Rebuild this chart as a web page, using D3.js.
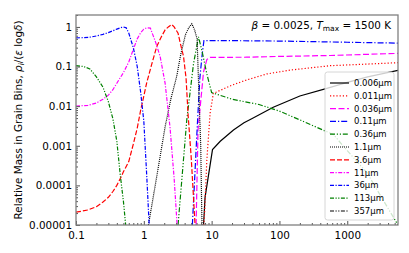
<!DOCTYPE html>
<html>
<head>
<meta charset="utf-8">
<script src="https://cdn.jsdelivr.net/npm/d3@7"></script>
<style>
  body { margin: 0; background: white; }
  text { font-family: "DejaVu Sans", sans-serif; }
</style>
</head>
<body>
<svg id="chart" width="409" height="253"></svg>
<script>

// grain sizes (legend labels)
var sizes = ["0.006μm", "0.011μm", "0.036μm", "0.11μm", "0.36μm", "1.1μm", "3.6μm", "11μm", "36μm", "113μm", "357μm"]

// series values (x = time axis, y = relative mass)
var x_0006 = [7.6, 8.0, 10.3, 13.4, 21, 30, 39, 81, 200, 500, 1000, 2000, 5600]
var y_0006 = [0.00001, 0.00005, 0.0008, 0.0013, 0.0025, 0.0038, 0.0048, 0.0094, 0.018, 0.028, 0.04, 0.055, 0.08]

var x_0011 = [7.7, 7.9, 8.5, 9.5, 10.6, 20, 33, 65, 150, 560, 1500, 5600]
var y_0011 = [0.00001, 0.000023, 0.00044, 0.0067, 0.021, 0.034, 0.046, 0.065, 0.082, 0.105, 0.113, 0.125]

var x_0036 = [5.9, 6.3, 7.0, 7.6, 8.5, 9.5, 33, 100, 560, 5600]
var y_0036 = [0.00001, 0.0025, 0.017, 0.074, 0.15, 0.17, 0.172, 0.18, 0.19, 0.215]

var x_011 = [5.2, 6.1, 6.7, 7.2, 7.7, 20, 100, 1000, 5600]
var y_011 = [0.00001, 0.0025, 0.05, 0.18, 0.45, 0.45, 0.44, 0.41, 0.39]

var x_036 = [3.2, 4.3, 5.4, 6.4, 7.2, 8.5, 10, 20, 50, 100, 200, 630, 1000, 1950, 3000, 5600]
var y_036 = [0.00001, 0.0045, 0.116, 0.56, 0.25, 0.065, 0.022, 0.015, 0.011, 0.0075, 0.0045, 0.0019, 0.00075, 0.00021, 0.00006, 0.00001]

var x_11 = [1.17, 1.5, 2.06, 2.5, 3.05, 3.5, 4.1, 4.6, 5.1, 5.6, 6.1, 6.5, 6.9, 7.2]
var y_11 = [0.00001, 0.00012, 0.003, 0.015, 0.056, 0.2, 0.63, 0.95, 1.2, 0.85, 0.5, 0.02, 0.001, 0.00001]

var x_36 = [0.1, 0.15, 0.2, 0.25, 0.3, 0.35, 0.4, 0.46, 0.5, 0.6, 0.7, 0.8, 0.9, 1.0, 1.1, 1.3, 1.55, 1.8, 2.06, 2.3, 2.58, 2.8, 3.2, 3.5, 3.85, 4.2, 4.5, 5.0, 5.7]
var y_36 = [0.000021, 0.000024, 0.000029, 0.000038, 0.00005, 0.00007, 0.0001, 0.00016, 0.00022, 0.0004, 0.0011, 0.0028, 0.008, 0.018, 0.038, 0.11, 0.32, 0.55, 0.84, 1.0, 1.15, 1.0, 0.69, 0.35, 0.18, 0.05, 0.006, 0.0005, 0.00001]

var x_110 = [0.1, 0.15, 0.2, 0.25, 0.3, 0.35, 0.4, 0.5, 0.6, 0.7, 0.8, 0.9, 1.0, 1.1, 1.25, 1.5, 1.74, 2.06, 2.44, 2.8, 3.1]
var y_110 = [0.01, 0.0105, 0.012, 0.015, 0.019, 0.026, 0.038, 0.07, 0.13, 0.27, 0.5, 0.72, 0.88, 0.95, 0.93, 0.4, 0.18, 0.038, 0.0028, 0.00015, 0.00001]

var x_360 = [0.1, 0.13, 0.16, 0.2, 0.25, 0.3, 0.35, 0.4, 0.45, 0.5, 0.55, 0.6, 0.7, 0.8, 0.9, 1.0, 1.1, 1.2]
var y_360 = [0.53, 0.535, 0.55, 0.59, 0.65, 0.72, 0.8, 0.88, 0.95, 1.0, 0.95, 0.7, 0.3, 0.1, 0.022, 0.0042, 0.0002, 0.00001]

var x_1130 = [0.1, 0.13, 0.16, 0.2, 0.25, 0.3, 0.35, 0.4, 0.45, 0.5, 0.54]
var y_1130 = [0.106, 0.1, 0.087, 0.055, 0.03, 0.013, 0.0048, 0.0013, 0.00018, 0.00004, 0.00001]

var x_3570 = []
var y_3570 = []

// tick labels
var x_ticks = [0.1, 1, 10, 100, 1000]
var x_tick_labels = ["0.1", "1", "10", "100", "1000"]
var y_ticks = [1, 0.1, 0.01, 0.001, 0.0001, 0.00001]
var y_tick_labels = ["1", "0.1", "0.01", "0.001", "0.0001", "0.00001"]

var series_x = [x_0006, x_0011, x_0036, x_011, x_036, x_11, x_36, x_110, x_360, x_1130, x_3570]
var series_y = [y_0006, y_0011, y_0036, y_011, y_036, y_11, y_36, y_110, y_360, y_1130, y_3570]

// line styles (colour, dash)
var styles = [
    ["#000000", null],
    ["#ff0000", "1.2,2"],
    ["#ff00ff", "6,2.5"],
    ["#0000ff", "6,2,1.2,2"],
    ["#008000", "5,1.8,1.2,1.8,1.2,1.8"],
    ["#000000", "1,1"],
    ["#ff0000", "5,2"],
    ["#ff00ff", "4,1.5,1.2,1.5"],
    ["#0000ff", "4,1.5,1.2,1.5"],
    ["#008000", "4,1.5,1.2,1.5,1.2,1.5"],
    ["#000000", "4,1.5,1.2,1.5,1.2,1.5"]
]

// dimensions of the plot area
var pLeft = 76, pRight = 398, pTop = 15, pBottom = 225

var svg = d3.select("#chart")

var xScale = d3.scaleLog().domain([0.1, 5600]).range([pLeft, pRight])
var yScale = d3.scaleLog().domain([0.00001, 2]).range([pBottom, pTop])

svg.append("defs").append("clipPath").attr("id", "plotclip")
    .append("rect")
    .attr("x", pLeft).attr("y", pTop)
    .attr("width", pRight - pLeft).attr("height", pBottom - pTop)

// lines
var line = d3.line()
    .x(function(d) { return xScale(d[0]) })
    .y(function(d) { return yScale(d[1]) })

var lines = svg.append("g").attr("clip-path", "url(#plotclip)")
for (var i = 0; i < series_x.length; i++) {
    var pts = series_x[i].map(function(x, j) { return [x, series_y[i][j]] })
    if (pts.length == 0) continue
    lines.append("path")
        .datum(pts)
        .attr("fill", "none")
        .attr("stroke", styles[i][0])
        .attr("stroke-width", 1.2)
        .attr("stroke-dasharray", styles[i][1])
        .attr("d", line)
}

// minor ticks
var x_minor = []
for (var e = -1; e < 4; e++) for (var k = 2; k < 10; k++) { var v = k * Math.pow(10, e); if (v <= 5600) x_minor.push(v) }
var y_minor = []
for (var e = -5; e < 1; e++) for (var k = 2; k < 10; k++) { var v = k * Math.pow(10, e); if (v <= 2) y_minor.push(v) }

// axes (ticks inward)
var xAxis = svg.append("g")
    .attr("transform", "translate(0," + pBottom + ")")
    .call(d3.axisBottom(xScale).tickValues(x_ticks).tickSize(-4).tickPadding(7)
        .tickFormat(function(d, i) { return x_tick_labels[i] }))
var xAxisMinor = svg.append("g")
    .attr("transform", "translate(0," + pBottom + ")")
    .call(d3.axisBottom(xScale).tickValues(x_minor).tickSize(-2).tickFormat(""))

var yAxis = svg.append("g")
    .attr("transform", "translate(" + pLeft + ",0)")
    .call(d3.axisLeft(yScale).tickValues(y_ticks).tickSize(-4).tickPadding(4)
        .tickFormat(function(d, i) { return y_tick_labels[i] }))
var yAxisMinor = svg.append("g")
    .attr("transform", "translate(" + pLeft + ",0)")
    .call(d3.axisLeft(yScale).tickValues(y_minor).tickSize(-2).tickFormat(""))

svg.selectAll(".domain").remove()
svg.selectAll(".tick line").attr("stroke", "#555")
svg.selectAll(".tick text").attr("font-size", "10.4px").attr("fill", "#000")
    .style("font-family", "DejaVu Sans")

// frame
svg.append("rect")
    .attr("x", pLeft).attr("y", pTop)
    .attr("width", pRight - pLeft).attr("height", pBottom - pTop)
    .attr("fill", "none")
    .attr("stroke", "#808080")
    .attr("stroke-width", 1.3)

// y axis label
var ylab = svg.append("text")
    .attr("transform", "translate(22," + (pTop + pBottom) / 2 + ") rotate(-90)")
    .attr("text-anchor", "middle")
    .attr("font-size", "10.4px")
ylab.append("tspan").text("Relative Mass in Grain Bins, ")
ylab.append("tspan").attr("font-style", "italic").text("ρ")
ylab.append("tspan").attr("font-style", "italic").attr("font-size", "7.5px").attr("dy", 2).text("i")
ylab.append("tspan").attr("dy", -2).text("/(")
ylab.append("tspan").attr("font-style", "italic").text("ε")
ylab.append("tspan").text(" log")
ylab.append("tspan").attr("font-style", "italic").text("δ")
ylab.append("tspan").text(")")

// title inside the plot
var title = svg.append("text")
    .attr("x", 391)
    .attr("y", 29)
    .attr("text-anchor", "end")
    .attr("font-size", "10.4px")
title.append("tspan").attr("font-style", "italic").text("β")
title.append("tspan").text(" = 0.0025, ")
title.append("tspan").attr("font-style", "italic").text("T")
title.append("tspan").attr("font-size", "7.5px").attr("dy", 2).text("max")
title.append("tspan").attr("dy", -2).text(" = 1500 K")

// legend
var legend = svg.append("g")
legend.append("rect")
    .attr("x", 325).attr("y", 72)
    .attr("width", 69).attr("height", 148)
    .attr("rx", 2.5)
    .attr("fill", "white")
    .attr("fill-opacity", 0.8)
    .attr("stroke", "#cccccc")
    .attr("stroke-width", 0.8)

for (var i = 0; i < sizes.length; i++) {
    var ly = 83 + i * 12.8
    legend.append("line")
        .attr("x1", 330).attr("x2", 349)
        .attr("y1", ly).attr("y2", ly)
        .attr("stroke", styles[i][0])
        .attr("stroke-width", 1.2)
        .attr("stroke-dasharray", styles[i][1])
    legend.append("text")
        .attr("x", 354)
        .attr("y", ly + 3)
        .attr("font-size", "8.5px")
        .text(sizes[i])
}

</script>
</body>
</html>
